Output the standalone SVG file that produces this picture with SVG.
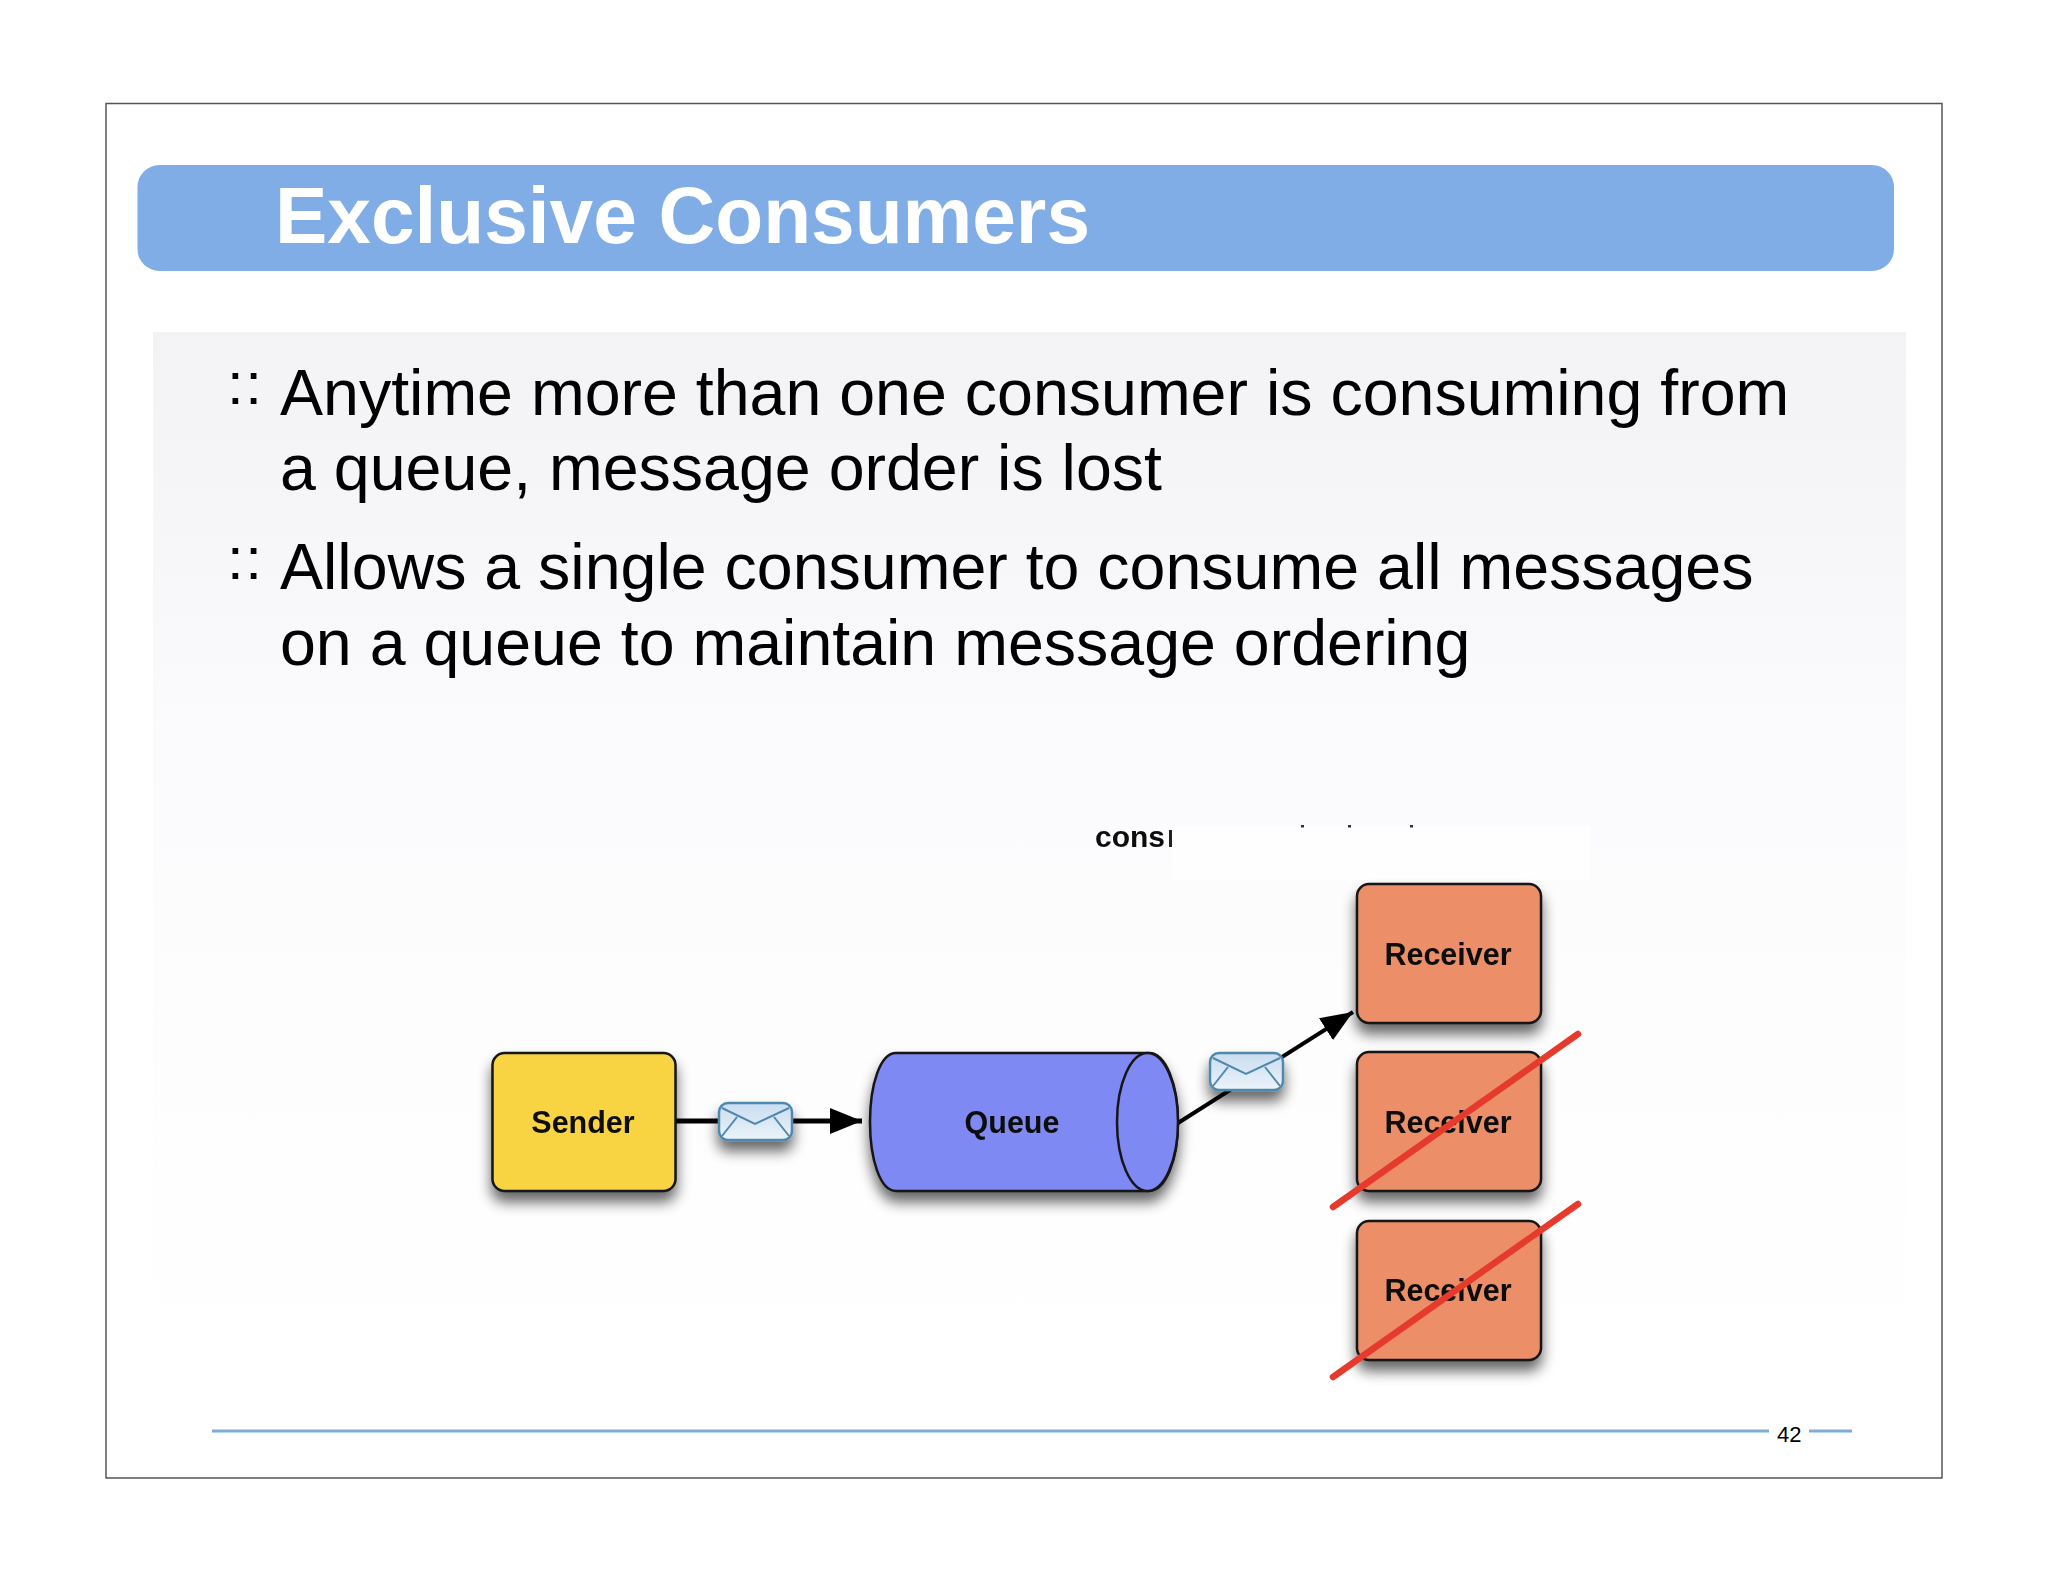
<svg xmlns="http://www.w3.org/2000/svg" width="2048" height="1582" viewBox="0 0 2048 1582">
<style>
text{font-family:"Liberation Sans",Arial,sans-serif}
.body{font-size:64.500px;fill:#000}
.mark{font-size:60px;fill:#000}
.lab{font-size:30.500px;font-weight:bold;fill:#111;text-anchor:middle}
.box{stroke:#161616;stroke-width:2.5}
.rcv{fill:#ec8e67}
.env{fill:url(#envg);stroke:#4f88ae;stroke-width:2.5}
.flap{fill:none;stroke:#4f88ae;stroke-width:2}
.conn{stroke:#000;fill:none}
.cross{stroke:#e53a2c;stroke-width:6.5;stroke-linecap:round}
.foot{stroke:#7fadd9;stroke-width:3}
</style>
<defs>
<linearGradient id="pan" gradientUnits="userSpaceOnUse" x1="0" y1="332" x2="0" y2="1430">
<stop offset="0" stop-color="#f3f3f5"/><stop offset="0.16" stop-color="#f6f6f9"/><stop offset="0.38" stop-color="#fbfbfd"/><stop offset="0.6" stop-color="#fdfdfe"/><stop offset="1" stop-color="#ffffff"/>
</linearGradient>
<linearGradient id="envg" x1="0" y1="0" x2="0" y2="1"><stop offset="0" stop-color="#c9ddef"/><stop offset="1" stop-color="#ecf3fa"/></linearGradient>
<filter id="sh" x="-30%" y="-60%" width="160%" height="240%"><feGaussianBlur in="SourceAlpha" stdDeviation="7"/><feOffset dy="10"/><feComponentTransfer><feFuncA type="linear" slope="0.6"/></feComponentTransfer><feMerge><feMergeNode/><feMergeNode in="SourceGraphic"/></feMerge></filter>
<filter id="soft"><feGaussianBlur stdDeviation="0.7"/></filter>
<marker id="ah" markerUnits="userSpaceOnUse" markerWidth="34" markerHeight="26" refX="32" refY="13" orient="auto"><path d="M0 0L32 13L0 26Z" fill="#000"/></marker>
</defs>
<rect width="2048" height="1582" fill="#fff"/>
<rect x="106" y="103.5" width="1836" height="1374.500" fill="#fff" stroke="#555" stroke-width="1.500"/>
<g id="title">
<rect x="137.500" y="165" width="1756.500" height="106" rx="22" fill="#80ade5"/>
<text x="275" y="243" font-size="80" font-weight="bold" fill="#fff" textLength="815" lengthAdjust="spacingAndGlyphs">Exclusive Consumers</text>
</g>
<rect id="panel" x="153" y="332" width="1753" height="1098" fill="url(#pan)"/>
<g id="bullets">
<text class="mark" x="227" y="404" letter-spacing="1.500">::</text>
<text class="body" x="280" y="415">Anytime more than one consumer is consuming from</text>
<text class="body" x="280" y="490">a queue, message order is lost</text>
<text class="mark" x="227" y="579" letter-spacing="1.500">::</text>
<text class="body" x="280" y="589">Allows a single consumer to consume all messages</text>
<text class="body" x="280" y="665">on a queue to maintain message ordering</text>
</g>
<g id="cutoff-label">
<rect x="1172" y="826" width="418" height="54" fill="#fefefe"/>
<text x="1095" y="847" font-size="30" font-weight="bold" fill="#111" filter="url(#soft)">cons</text>
<rect x="1169" y="830" width="3" height="17" fill="#222"/>
<rect x="1301" y="825" width="3" height="2.500" fill="#333"/>
<rect x="1348" y="825" width="3" height="2.500" fill="#333"/>
<rect x="1410" y="825" width="3" height="2.500" fill="#333"/>
</g>
<g id="connectors">
<path class="conn" d="M675 1121H862" stroke-width="5" marker-end="url(#ah)"/>
<path class="conn" d="M1178 1123L1353 1012" stroke-width="4" marker-end="url(#ah)"/>
</g>
<g id="sender" filter="url(#sh)">
<rect class="box" x="492.500" y="1053" width="183" height="138" rx="12" fill="#f8d342"/>
<text class="lab" x="583" y="1133" filter="url(#soft)">Sender</text>
</g>
<g id="queue" filter="url(#sh)">
<path class="box" d="M896 1053H1149C1166 1053 1178 1085 1178 1122C1178 1159 1166 1191 1149 1191H896C880 1191 870 1159 870 1122C870 1085 880 1053 896 1053Z" fill="#7f89f3"/>
<ellipse class="box" cx="1147.500" cy="1122" rx="30.500" ry="69" fill="#7f89f3"/>
<text class="lab" x="1012" y="1133" filter="url(#soft)">Queue</text>
</g>
<g id="message-1" filter="url(#sh)">
<rect class="env" x="719" y="1103" width="73" height="37" rx="9"/>
<path class="flap" d="M722 1108L755 1124L789 1108M722 1136L737 1117M789 1136L774 1117"/>
</g>
<g id="message-2" filter="url(#sh)">
<rect class="env" x="1210" y="1053" width="73" height="37" rx="9"/>
<path class="flap" d="M1213 1058L1246 1074L1280 1058M1213 1086L1228 1067M1280 1086L1265 1067"/>
</g>
<g id="receiver-1" filter="url(#sh)">
<rect class="box rcv" x="1357" y="884" width="184" height="139" rx="12"/>
<text class="lab" x="1448" y="965" filter="url(#soft)">Receiver</text>
</g>
<g id="receiver-2" filter="url(#sh)">
<rect class="box rcv" x="1357" y="1052" width="184" height="139" rx="12"/>
<text class="lab" x="1448" y="1133" filter="url(#soft)">Receiver</text>
</g>
<g id="receiver-3" filter="url(#sh)">
<rect class="box rcv" x="1357" y="1221" width="184" height="139" rx="12"/>
<text class="lab" x="1448" y="1301" filter="url(#soft)">Receiver</text>
</g>
<g id="crossouts">
<path class="cross" d="M1333 1207L1578 1034"/>
<path class="cross" d="M1333 1377L1578 1204"/>
</g>
<g id="footer">
<path class="foot" d="M212 1431H1769M1809 1431H1852"/>
<text x="1777" y="1442" font-size="22" fill="#000">42</text>
</g>
</svg>
